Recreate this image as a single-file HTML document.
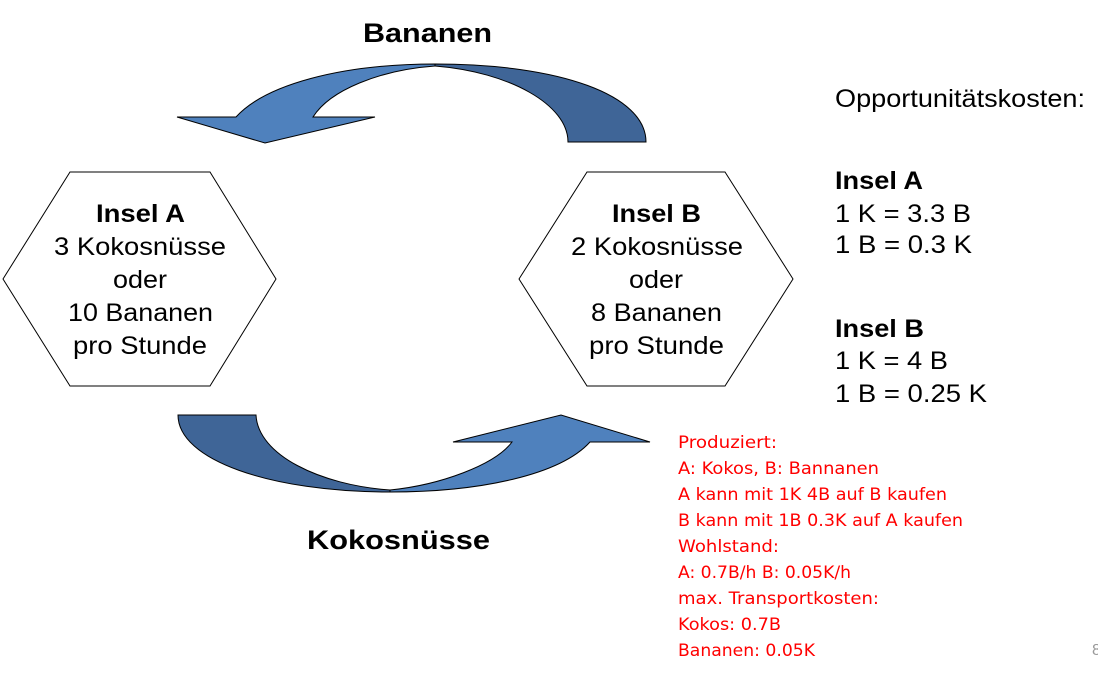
<!DOCTYPE html>
<html><head><meta charset="utf-8"><style>html,body{margin:0;padding:0;background:#fff}svg{display:block}</style></head>
<body>
<svg width="1098" height="676" viewBox="0 0 1098 676" xmlns="http://www.w3.org/2000/svg" font-family="Liberation Sans, Arial, sans-serif">
<path d="M435,64 C560,64 646,95 646,142 L568,142 C568,105 510,72 435,66 Z" fill="#3f6597" stroke="#000" stroke-width="1"/>
<path d="M435,66 C380,70 330,90 313,117 L375,117 L265,143 L177,117 L236,117 C265,85 340,64 435,64 Z" fill="#4f81bd" stroke="#000" stroke-width="1"/>
<path d="M178,415 L256,415 C258,455 320,485 390,490 L390,492 C270,492 178,460 178,415 Z" fill="#3f6597" stroke="#000" stroke-width="1"/>
<path d="M390,490 C440,485 495,465 512,442 L453,442 L561,415 L650,442 L590,442 C560,475 480,492 390,492 Z" fill="#4f81bd" stroke="#000" stroke-width="1"/>
<polygon points="3,279 70,172 210,172 276,279 210,386 70,386" fill="#fff" stroke="#000" stroke-width="1"/>
<polygon points="519,279 587,172 725,172 793,279 725,386 587,386" fill="#fff" stroke="#000" stroke-width="1"/>
<g font-size="25" fill="#000">
<text x="96" y="222" font-weight="bold" textLength="89" lengthAdjust="spacingAndGlyphs">Insel A</text>
<text x="54" y="255" textLength="172" lengthAdjust="spacingAndGlyphs">3 Kokosnüsse</text>
<text x="113" y="288" textLength="54" lengthAdjust="spacingAndGlyphs">oder</text>
<text x="68" y="321" textLength="145" lengthAdjust="spacingAndGlyphs">10 Bananen</text>
<text x="73" y="354" textLength="134" lengthAdjust="spacingAndGlyphs">pro Stunde</text>
<text x="612" y="222" font-weight="bold" textLength="89" lengthAdjust="spacingAndGlyphs">Insel B</text>
<text x="571" y="255" textLength="172" lengthAdjust="spacingAndGlyphs">2 Kokosnüsse</text>
<text x="629" y="288" textLength="54" lengthAdjust="spacingAndGlyphs">oder</text>
<text x="591" y="321" textLength="131" lengthAdjust="spacingAndGlyphs">8 Bananen</text>
<text x="589" y="354" textLength="135" lengthAdjust="spacingAndGlyphs">pro Stunde</text>
<text x="363" y="42" font-weight="bold" font-size="27" textLength="129" lengthAdjust="spacingAndGlyphs">Bananen</text>
<text x="307" y="549" font-weight="bold" font-size="27" textLength="183" lengthAdjust="spacingAndGlyphs">Kokosnüsse</text>
<text x="835" y="107" textLength="250" lengthAdjust="spacingAndGlyphs">Opportunitätskosten:</text>
<text x="835" y="189" font-weight="bold" textLength="88" lengthAdjust="spacingAndGlyphs">Insel A</text>
<text x="835" y="222" textLength="136" lengthAdjust="spacingAndGlyphs">1 K = 3.3 B</text>
<text x="835" y="253" textLength="137" lengthAdjust="spacingAndGlyphs">1 B = 0.3 K</text>
<text x="835" y="337" font-weight="bold" textLength="89" lengthAdjust="spacingAndGlyphs">Insel B</text>
<text x="835" y="369" textLength="113" lengthAdjust="spacingAndGlyphs">1 K = 4 B</text>
<text x="835" y="402" textLength="152" lengthAdjust="spacingAndGlyphs">1 B = 0.25 K</text>
</g>
<g font-family="DejaVu Sans, sans-serif" font-size="17" fill="#ff0000">
<text x="678" y="448" textLength="99" lengthAdjust="spacingAndGlyphs">Produziert:</text>
<text x="678" y="474" textLength="201" lengthAdjust="spacingAndGlyphs">A: Kokos, B: Bannanen</text>
<text x="678" y="500" textLength="269" lengthAdjust="spacingAndGlyphs">A kann mit 1K 4B auf B kaufen</text>
<text x="678" y="526" textLength="285" lengthAdjust="spacingAndGlyphs">B kann mit 1B 0.3K auf A kaufen</text>
<text x="678" y="552" textLength="101" lengthAdjust="spacingAndGlyphs">Wohlstand:</text>
<text x="678" y="578" textLength="173" lengthAdjust="spacingAndGlyphs">A: 0.7B/h B: 0.05K/h</text>
<text x="678" y="604" textLength="201" lengthAdjust="spacingAndGlyphs">max. Transportkosten:</text>
<text x="678" y="630" textLength="103" lengthAdjust="spacingAndGlyphs">Kokos: 0.7B</text>
<text x="678" y="656" textLength="137" lengthAdjust="spacingAndGlyphs">Bananen: 0.05K</text>
</g>
<text x="1092" y="655" font-size="16" fill="#999">8</text>
</svg>
</body></html>
